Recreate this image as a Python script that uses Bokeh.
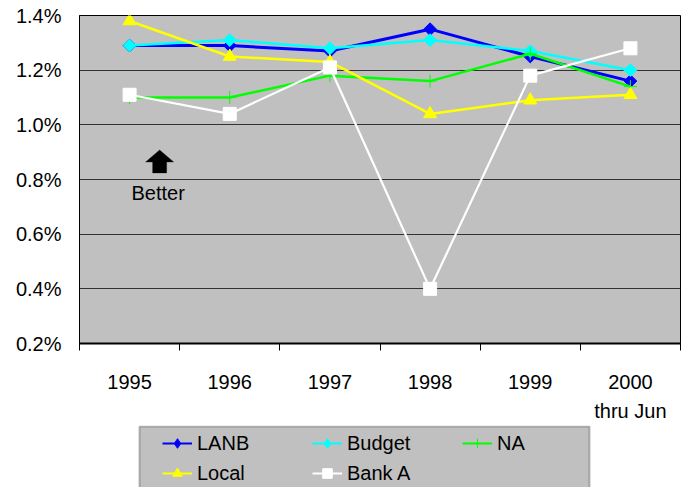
from bokeh.plotting import figure
from bokeh.layouts import column
from bokeh.models import (FixedTicker, PrintfTickFormatter, Legend, LegendItem,
                          PolyAnnotation, BoxAnnotation, Range1d)
from bokeh.core.properties import value
from bokeh.embed import file_html
from bokeh.resources import INLINE

years = ["1995", "1996", "1997", "1998", "1999", "2000\nthru Jun"]
lanb = [1.29, 1.29, 1.27, 1.35, 1.25, 1.16]
budget = [1.29, 1.31, 1.28, 1.31, 1.27, 1.20]
na = [1.10, 1.10, 1.18, 1.16, 1.26, 1.14]
local = [1.38, 1.25, 1.23, 1.04, 1.09, 1.11]
bank_a = [1.11, 1.04, 1.21, 0.40, 1.18, 1.28]
y_ticks = [0.2, 0.4, 0.6, 0.8, 1.0, 1.2, 1.4]

FONT = "Liberation Sans"

xs = [i + 0.5 for i in range(len(years))]

p = figure(width=688, height=425, output_backend="svg", toolbar_location=None,
           x_range=Range1d(0, len(years)), y_range=Range1d(0.2, 1.4),
           min_border_left=79, min_border_right=8, min_border_top=15,
           min_border_bottom=81)
p.background_fill_color = "#C0C0C0"
p.border_fill_color = "white"
p.outline_line_color = "black"
p.outline_line_width = 1

# axes
p.xaxis.ticker = FixedTicker(ticks=xs, minor_ticks=list(range(len(years) + 1)))
p.xaxis.major_label_overrides = {x: lab for x, lab in zip(xs, years)}
p.xaxis.major_tick_out = 0
p.xaxis.major_tick_in = 0
p.xaxis.minor_tick_out = 7
p.xaxis.minor_tick_in = 0
p.xaxis.minor_tick_line_color = "black"
p.xaxis.axis_line_color = "black"
p.xaxis.axis_line_width = 2
p.xaxis.major_label_standoff = 20
p.xaxis.major_label_text_font = FONT
p.xaxis.major_label_text_font_size = "20px"
p.xaxis.major_label_text_color = "black"
p.xaxis.major_label_text_line_height = 1.35

p.yaxis.ticker = FixedTicker(ticks=y_ticks)
p.yaxis.formatter = PrintfTickFormatter(format="%.1f%%")
p.yaxis.major_tick_out = 0
p.yaxis.major_tick_in = 0
p.yaxis.minor_tick_line_color = None
p.yaxis.axis_line_color = "black"
p.yaxis.major_label_standoff = 18
p.yaxis.major_label_text_font = FONT
p.yaxis.major_label_text_font_size = "20px"
p.yaxis.major_label_text_color = "black"

p.xgrid.grid_line_color = None
p.ygrid.grid_line_color = "#333333"
p.ygrid.grid_line_width = 1

series = [
    ("LANB", lanb, "#0000FF", dict(marker="square", angle=0.785398, size=9),
     dict(marker="diamond", size=13), 3),
    ("Budget", budget, "#00FFFF", dict(marker="square", angle=0.785398, size=9),
     dict(marker="diamond", size=13), 2.5),
    ("NA", na, "#00FF00", dict(marker="cross", size=13, line_width=1),
     dict(marker="cross", size=13, line_width=1), 2.5),
    ("Local", local, "#FFFF00", dict(marker="triangle", size=13),
     dict(marker="triangle", size=12), 2.5),
    ("Bank A", bank_a, "#FFFFFF", dict(marker="square", size=13),
     dict(marker="square", size=11), 2.2),
]

for name, vals, color, mk, lmk, lw in series:
    p.line(xs, vals, line_color=color, line_width=lw)
    p.scatter(xs, vals, fill_color=color, line_color=color, **mk)

# "Better" annotation with an up arrow
ax = 0.80
p.add_layout(PolyAnnotation(
    xs=[ax - 0.07, ax - 0.07, ax - 0.14, ax, ax + 0.14, ax + 0.07, ax + 0.07],
    ys=[0.824, 0.864, 0.864, 0.908, 0.864, 0.864, 0.824],
    fill_color="black", fill_alpha=1, line_color="black", line_width=1))
p.text(x=[0.785], y=[0.751], text=["Better"], text_align="center",
       text_baseline="middle", text_font=value(FONT), text_font_size="20px",
       text_color="black")

# legend panel below the chart (its frame is aligned with the chart's frame,
# so the x range is expressed in page pixels across that frame)
p2 = figure(width=688, height=62, output_backend="svg", toolbar_location=None,
            x_range=Range1d(79, 680), y_range=Range1d(0, 62),
            x_axis_type=None, y_axis_type=None,
            min_border_left=79, min_border_right=8, min_border_top=0,
            min_border_bottom=0)
p2.outline_line_color = None
p2.background_fill_color = "white"
p2.border_fill_color = "white"
p2.grid.visible = False
p2.extra_x_ranges = {"off": Range1d(100, 101)}
p2.add_layout(BoxAnnotation(left=139, right=589, bottom=-20, top=61,
                            fill_color="#C0C0C0", fill_alpha=1,
                            line_color="#333333", line_width=2))

items = []
for name, vals, color, mk, lmk, lw in series:
    # legend proxies: same data and style, drawn on an off-screen x range
    ln = p2.line(xs, vals, line_color=color, line_width=2, x_range_name="off")
    sc = p2.scatter(xs, vals, fill_color=color, line_color=color,
                    x_range_name="off", **lmk)
    items.append(LegendItem(label=name, renderers=[ln, sc]))

legend = Legend(items=items, orientation="horizontal", ncols=3,
                location=(83, 2), glyph_width=30, glyph_height=24,
                label_height=24, label_standoff=5, label_width=109,
                spacing=6, padding=0, margin=0,
                label_text_font=FONT, label_text_font_size="20px",
                label_text_color="black",
                background_fill_alpha=0, border_line_color=None)
p2.add_layout(legend, "center")

layout = column(p, p2, spacing=0)
open("out.html", "w").write(file_html(layout, INLINE))
